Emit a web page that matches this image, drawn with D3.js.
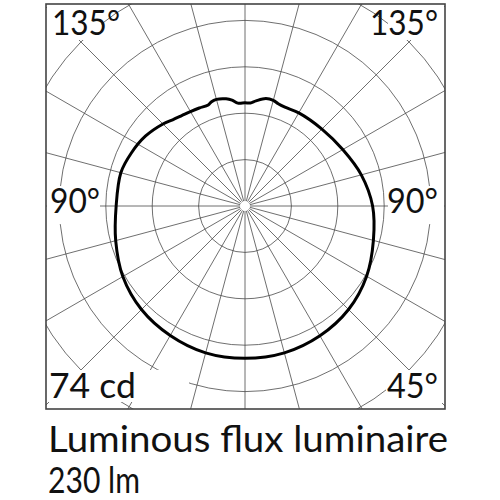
<!DOCTYPE html>
<html><head><meta charset="utf-8">
<script src="https://cdn.jsdelivr.net/npm/d3@7"></script>
<style>
body{margin:0;background:#fff}
text{font-family:Lato,"Open Sans",sans-serif;fill:#111}
</style>
</head><body>
<svg id="c" width="500" height="500"></svg>
<script>
// Luminous intensity (cd), angle measured from nadir (0°) to zenith (180°)
const rightAngles = [0,15,30,45,60,75,90,105,120,135,150,158,162,165,169,174,177,180];
const rightValues = [48.6,48.5,47.8,46.7,44.8,42.4,40.7,38.4,36.0,34.7,34.3,34.0,34.3,34.9,34.9,33.7,32.9,32.9];
const leftAngles  = [0,15,30,45,60,75,90,105,115,125,135,140,145,150,155,160,162,165,170,173,176,180];
const leftValues  = [48.6,48.5,47.7,46.7,45.0,42.7,41.1,41.0,40.0,38.8,37.0,35.9,35.2,34.8,34.5,34.3,34.9,35.2,34.7,34.0,32.9,32.9];
const ringValues  = [14.8,29.6,44.4,59.2,74];
const spokeAngles = [0,15,30,45,60,75,90,105,120,135,150,165,180,195,210,225,240,255,270,285,300,315,330,345];
const cornerLabels = ["135°","135°","90°","90°","74 cd","45°"];
const fluxTitle = "Luminous flux luminaire";
const fluxValue = "230 lm";

const svg = d3.select("#c");
const cx = 245, cy = 206;
const frame = {x:46, y:4, w:399, h:405};
const r = d3.scaleLinear().domain([0, 74]).range([0, 232]);

svg.append("defs").append("clipPath").attr("id","fc")
  .append("rect").attr("x",frame.x).attr("y",frame.y).attr("width",frame.w).attr("height",frame.h);

const g = svg.append("g").attr("clip-path","url(#fc)");
const grid = g.append("g").attr("transform",`translate(${cx},${cy})`)
  .attr("stroke","#4a4a4a").attr("stroke-width",0.8).attr("fill","none");

grid.selectAll("circle").data(ringValues).join("circle").attr("r", d => r(d));
grid.selectAll("line").data(spokeAngles).join("line")
  .attr("x1", d => 5*Math.sin(d*Math.PI/180)).attr("y1", d => 5*Math.cos(d*Math.PI/180))
  .attr("x2", d => 420*Math.sin(d*Math.PI/180)).attr("y2", d => 420*Math.cos(d*Math.PI/180));

// curve: right half 0→180, left half 180→0 (screen angle from top, clockwise)
const pts = [];
rightAngles.forEach((a,i) => pts.push({ang:(180-a)*Math.PI/180, v:rightValues[i]}));
for (let i = leftAngles.length-2; i >= 1; i--) pts.push({ang:(180+leftAngles[i])*Math.PI/180, v:leftValues[i]});
const line = d3.lineRadial().angle(d => d.ang).radius(d => r(d.v)).curve(d3.curveCatmullRomClosed.alpha(0.5));
g.append("path").attr("transform",`translate(${cx},${cy})`)
  .attr("d", line(pts)).attr("fill","none").attr("stroke","#000").attr("stroke-width",3);

// label background boxes
const boxes = [
  {x:47,y:5,w:54,h:35},{x:388,y:5,w:56,h:35},
  {x:47,y:186,w:53,h:38},{x:388,y:186,w:56,h:38},
  {x:47,y:370,w:142,h:32},{x:386,y:370,w:58,h:33}
];
g.selectAll("rect.bg").data(boxes).join("rect").attr("class","bg")
  .attr("x",d=>d.x).attr("y",d=>d.y).attr("width",d=>d.w).attr("height",d=>d.h).attr("fill","#fff");

const labelPos = [
  {x:52,y:35,w:68},{x:370,y:35,w:68},
  {x:50,y:213,w:50},{x:387,y:213,w:51},
  {x:49,y:398,w:87},{x:387,y:398,w:51}
];
svg.selectAll("text.corner").data(cornerLabels).join("text").attr("class","corner")
  .attr("x",(d,i)=>labelPos[i].x).attr("y",(d,i)=>labelPos[i].y)
  .attr("textLength",(d,i)=>labelPos[i].w).attr("lengthAdjust","spacingAndGlyphs")
  .attr("font-size",35).text(d=>d);

svg.append("rect").attr("x",frame.x).attr("y",frame.y).attr("width",frame.w).attr("height",frame.h)
  .attr("fill","none").attr("stroke","#444").attr("stroke-width",1.6);

svg.append("text").attr("x",48).attr("y",452).attr("font-size",36)
  .attr("textLength",400).attr("lengthAdjust","spacingAndGlyphs").text(fluxTitle);
svg.append("text").attr("x",48).attr("y",493).attr("font-size",36)
  .attr("textLength",92).attr("lengthAdjust","spacingAndGlyphs").text(fluxValue);
</script>
</body></html>
